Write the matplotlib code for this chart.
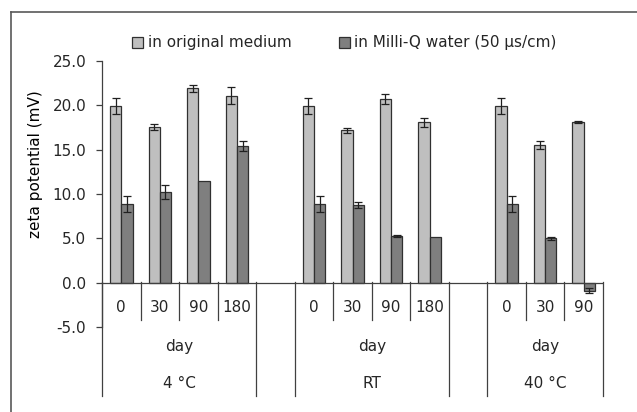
import matplotlib
matplotlib.use("Agg")
import numpy as np
import matplotlib.pyplot as plt
from matplotlib.lines import Line2D
from matplotlib.patches import Patch
import matplotlib.transforms as mtransforms

plt.rcParams['font.family'] = ['DejaVu Sans']
plt.rcParams['font.size'] = 11
plt.rcParams['text.color'] = '#262626'

# data
groups = ["4 °C", "RT", "40 °C"]
group_sizes = [4, 4, 3]
day_labels = ["0", "30", "90", "180", "0", "30", "90", "180", "0", "30", "90"]
original = [19.9, 17.6, 21.9, 21.1, 19.9, 17.2, 20.7, 18.1, 19.9, 15.5, 18.1]
original_err = [0.9, 0.35, 0.4, 1.0, 0.9, 0.3, 0.6, 0.5, 0.9, 0.45, 0.1]
milliq = [8.9, 10.2, 11.5, 15.4, 8.9, 8.8, 5.25, 5.2, 8.9, 5.0, -0.9]
milliq_err = [0.9, 0.8, 0.0, 0.55, 0.9, 0.35, 0.15, 0.0, 0.9, 0.15, 0.3]

light = "#bfbfbf"
dark = "#7f7f7f"
edge = "#303030"

# slot positions: one empty slot between groups
slots = []
s = 0
for n in group_sizes:
    slots.extend(range(s, s + n))
    s += n + 1
slots = np.array(slots)
n_slots = s - 1
w = 0.293

fig = plt.figure(figsize=(6.37, 4.12), dpi=100)
ax = fig.add_axes([102 / 637, 85 / 412, 501 / 637, 266 / 412])

ax.bar(slots + 0.5 - w / 2, original, w, color=light, edgecolor=edge, linewidth=0.9, zorder=2)
ax.bar(slots + 0.5 + w / 2, milliq, w, color=dark, edgecolor=edge, linewidth=0.9, zorder=2)

oe = np.array(original_err)
me = np.array(milliq_err)
m = oe > 0
ax.errorbar((slots + 0.5 - w / 2)[m], np.array(original)[m], yerr=oe[m], fmt='none',
            ecolor="#202020", elinewidth=0.9, capsize=2.8, capthick=0.9, zorder=3)
m = me > 0
ax.errorbar((slots + 0.5 + w / 2)[m], np.array(milliq)[m], yerr=me[m], fmt='none',
            ecolor="#202020", elinewidth=0.9, capsize=2.8, capthick=0.9, zorder=3)

ax.set_xlim(0, n_slots)
ax.set_ylim(-5, 25)
ax.set_yticks(np.arange(-5, 26, 5))
ax.set_yticklabels([f"{v:.1f}" for v in np.arange(-5, 26, 5)])
ax.tick_params(axis='y', direction='out', length=4.3, width=0.9, color="#404040",
               pad=7, labelcolor='#262626')
ax.set_xticks([])
for sp in ['top', 'right', 'bottom']:
    ax.spines[sp].set_visible(False)
ax.spines['left'].set_color("#404040")
ax.spines['left'].set_linewidth(0.9)
ax.axhline(0, color="#404040", linewidth=0.9, zorder=4)

ax.set_ylabel("zeta potential (mV)")
ax.yaxis.set_label_coords(-0.117, 0.613)

# multi-level category axis
tr = mtransforms.blended_transform_factory(ax.transData, fig.transFigure)
y0 = 1 - 282 / 412
y_short = 1 - 320 / 412
y_long = 1 - 396 / 412
start = 0
k = 0
for g, n in zip(groups, group_sizes):
    for j in range(n):
        x = start + j
        ax.text(x + 0.5, 1 - 308 / 412, day_labels[k], transform=tr, ha='center', va='center')
        if j > 0:
            ax.add_line(Line2D([x, x], [y0, y_short], transform=tr, color="#404040", lw=0.9, clip_on=False))
        k += 1
    ax.text(start + n / 2, 1 - 347 / 412, "day", transform=tr, ha='center', va='center')
    ax.text(start + n / 2, 1 - 383 / 412, g, transform=tr, ha='center', va='center')
    for x in (start, start + n):
        ax.add_line(Line2D([x, x], [y0, y_long], transform=tr, color="#404040", lw=0.9, clip_on=False))
    start += n + 1

handles = [Patch(facecolor=light, edgecolor=edge, linewidth=0.9),
           Patch(facecolor=dark, edgecolor=edge, linewidth=0.9)]
fig.legend(handles, ["in original medium", "in Milli-Q water (50 µs/cm)"], ncol=2,
           loc='center left', bbox_to_anchor=(132 / 637, 1 - 43 / 412), frameon=False,
           handlelength=0.72, handleheight=0.72, handletextpad=0.3, columnspacing=3.1,
           borderpad=0, borderaxespad=0)

# outer frame (left and top edges visible)
fig.add_artist(Line2D([11 / 637, 11 / 637], [0, 1 - 12 / 412], transform=fig.transFigure,
                      color="#595959", lw=1.2))
fig.add_artist(Line2D([11 / 637, 1], [1 - 12 / 412, 1 - 12 / 412], transform=fig.transFigure,
                      color="#595959", lw=1.2))

fig.savefig("out.png", dpi=100)
